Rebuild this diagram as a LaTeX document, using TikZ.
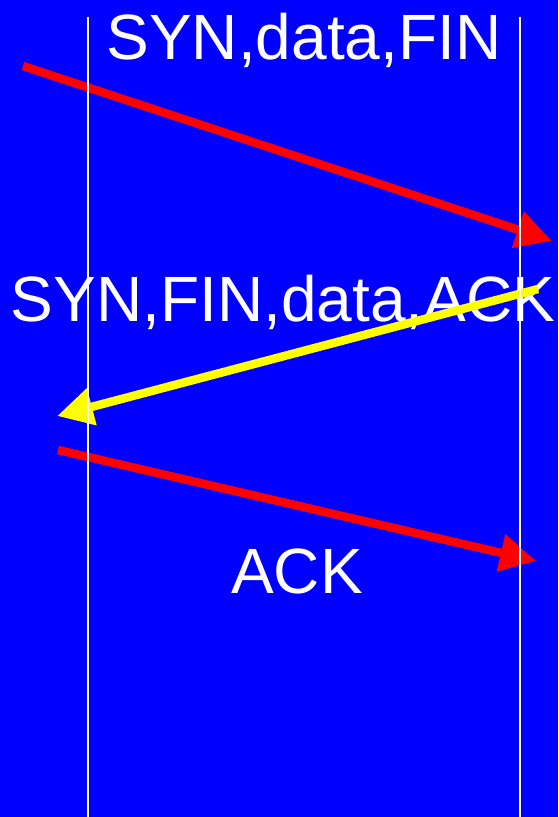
\documentclass[tikz,border=0pt]{standalone}
\usepackage{fontspec}
\setmainfont{Liberation Sans}
\usetikzlibrary{arrows.meta}
\definecolor{bgblue}{RGB}{0,0,255}
\definecolor{msgred}{RGB}{255,0,0}
\definecolor{msgyellow}{RGB}{255,255,0}
\tikzset{
  label text/.style={text=white, inner sep=0pt, anchor=base,
    font=\fontsize{64}{64}\selectfont},
  msg/.style={line width=8.5pt, -{Triangle[length=36pt,width=36pt]}},
  lifeline/.style={draw=white, line width=1.6pt}
}
\begin{document}
\begin{tikzpicture}[x=1pt, y=-1pt]
  % background
  \fill[bgblue] (0,0) rectangle (558,817);
  \useasboundingbox (0,0) rectangle (558,817);

  % message labels
  \node[label text] (l1) at (304,59) {SYN,data,FIN};
  \node[label text] (l2) at (283,321) {SYN,FIN,data,ACK};
  \node[label text] (l3) at (297,593) {ACK};

  % message end points
  \coordinate (a1) at (23,66);
  \coordinate (b1) at (552,241);
  \coordinate (a2) at (538,289);
  \coordinate (b2) at (57,416);
  \coordinate (a3) at (58,450);
  \coordinate (b3) at (536,561);

  % messages
  \draw[msg, msgred] (a1) -- (b1);
  \draw[msg, msgyellow] (a2) -- (b2);
  \draw[msg, msgred] (a3) -- (b3);

  % lifelines
  \coordinate (lt) at (88,17);
  \coordinate (lb) at (88,817);
  \coordinate (rt) at (520,17);
  \coordinate (rb) at (520,817);
  \draw[lifeline] (lt) -- (lb);
  \draw[lifeline] (rt) -- (rb);
\end{tikzpicture}
\end{document}
